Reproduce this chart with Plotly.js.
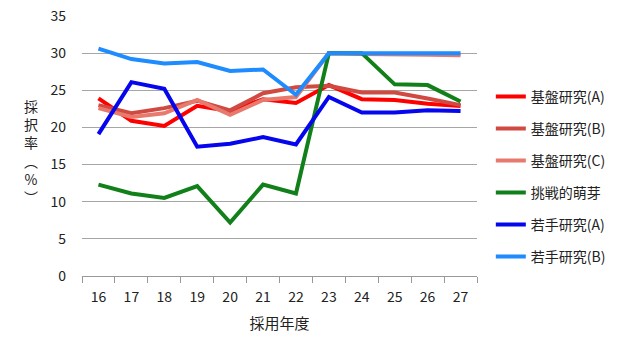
<!DOCTYPE html>
<html>
<head>
<meta charset="utf-8">
<script src="https://cdn.plot.ly/plotly-3.0.1.min.js"></script>
<style>html,body{margin:0;padding:0;background:#fff;}#chart{width:640px;height:356px;}</style>
</head>
<body>
<div id="chart"></div>
<script>
const years = ["16","17","18","19","20","21","22","23","24","25","26","27"];
const seriesNames = ["基盤研究(A)","基盤研究(B)","基盤研究(C)","挑戦的萌芽","若手研究(A)","若手研究(B)"];
const kibanA  = [23.9, 20.9, 20.2, 22.9, 22.2, 23.8, 23.3, 25.7, 23.8, 23.7, 23.2, 22.9];
const kibanB  = [23.0, 21.9, 22.6, 23.6, 22.3, 24.6, 25.4, 25.6, 24.7, 24.7, 23.9, 23.0];
const kibanC  = [22.6, 21.4, 21.9, 23.7, 21.7, 23.7, 24.1, 30.0, 29.9, 29.9, 29.8, 29.7];
const houga   = [12.3, 11.1, 10.5, 12.1, 7.2, 12.3, 11.1, 30.0, 30.0, 25.8, 25.7, 23.5];
const wakateA = [19.1, 26.1, 25.2, 17.4, 17.8, 18.7, 17.7, 24.1, 22.0, 22.0, 22.3, 22.2];
const wakateB = [30.6, 29.2, 28.6, 28.8, 27.6, 27.8, 24.4, 30.0, 30.0, 30.0, 30.0, 30.0];
const yTicks = [0, 5, 10, 15, 20, 25, 30, 35];

const values = [kibanA, kibanB, kibanC, houga, wakateA, wakateB];
const colors = ["#ff0000", "#d04a42", "#e8796d", "#12801a", "#0505ee", "#1e8cff"];

const font = "'Noto Sans CJK JP', 'Noto Sans', sans-serif";
const traces = values.map((v, i) => ({
  type: "scatter",
  mode: "lines",
  x: years,
  y: v,
  name: seriesNames[i],
  legendgroup: "g" + i,
  line: {color: colors[i], width: 4}
}));

const layout = {
  width: 640, height: 356,
  margin: {l: 82, r: 163, t: 16, b: 80},
  paper_bgcolor: "#fff", plot_bgcolor: "#fff",
  font: {family: font, size: 14, color: "#222"},
  showlegend: true,
  legend: {x: 1.035, xanchor: "left", y: 0.75, yanchor: "top",
           font: {family: font, size: 14, color: "#222"},
           itemwidth: 30,
           tracegroupgap: 10.8, bgcolor: "rgba(0,0,0,0)"},
  xaxis: {
    type: "category",
    range: [-0.5, 11.5],
    tickson: "boundaries",
    ticks: "outside", ticklen: 6, tickcolor: "#999",
    showline: true, linecolor: "#999", linewidth: 1,
    showgrid: false,
    ticklabelstandoff: 8,
    tickfont: {family: font, size: 14, color: "#222"},
    title: {text: "採用年度", font: {family: font, size: 15, color: "#222"}, standoff: 13},
    fixedrange: true
  },
  yaxis: {
    range: [0, 35],
    tickvals: yTicks,
    ticktext: yTicks.map(String),
    showgrid: true, gridcolor: "#a6a6a6", gridwidth: 1,
    zeroline: false, showline: false,
    ticks: "", ticklabelstandoff: 15,
    tickfont: {family: font, size: 14, color: "#222"},
    fixedrange: true
  },
  annotations: [{
    xref: "paper", yref: "paper",
    x: -0.13, y: 0.48, xanchor: "center", yanchor: "middle",
    showarrow: false,
    text: "採<br>択<br>率<br>︵<br>%<br>︶",
    font: {family: font, size: 14, color: "#222"}
  }]
};

Plotly.newPlot("chart", traces, layout, {displayModeBar: false, staticPlot: true});
</script>
</body>
</html>
